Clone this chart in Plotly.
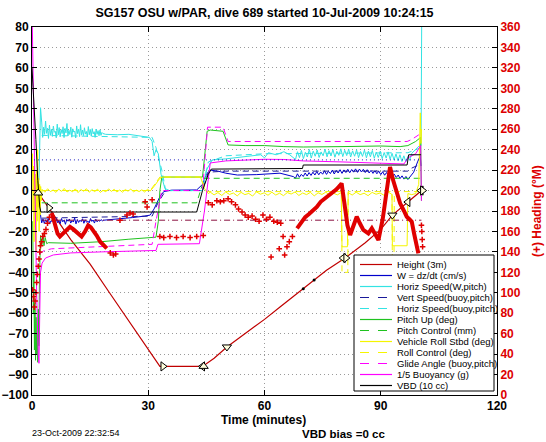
import numpy as np
import plotly.graph_objects as go

# ---------------- data ----------------
x_ticks = [0, 30, 60, 90, 120]
y_ticks = list(range(-100, 81, 10))
y2_ticks = list(range(0, 361, 20))

title_text = "SG157 OSU w/PAR, dive 689 started 10-Jul-2009 10:24:15"
legend_labels = ["Height (3m)", "W = dz/dt (cm/s)", "Horiz Speed(W,pitch)", "Vert Speed(buoy,pitch)",
                 "Horiz Speed(buoy,pitch)", "Pitch Up (deg)", "Pitch Control (mm)", "Vehicle Roll Stbd (deg)",
                 "Roll Control (deg)", "Glide Angle (buoy,pitch)", "1/5 Buoyancy (g)", "VBD (10 cc)"]

# Height (3m)
height_t = [0.0, 0.8, 1.6, 4.4, 6, 10, 15, 20, 25, 30, 33, 44, 47, 50.3, 55, 60, 64, 70, 73, 76, 80.8, 86, 90, 93, 97, 100.7]
height_v = [0.5, 0, -1.2, -8.5, -13, -24, -36, -50, -64, -78, -86, -86, -82, -76.5, -70, -63, -57, -48, -43.7, -39, -33, -25.5, -19, -12, -5.6, 0.3]
# event markers on the height trace
mark_t = [1.6, 4.4, 33.8, 44.0, 44.3, 50.3, 80.3, 81.0, 93.0, 97.0, 100.4, 100.8]
mark_v = [-1.2, -8.5, -86, -86, -86, -76.5, -33, -33, -12, -5.6, 0, 0]
mark_sym = ["triangle-up", "triangle-right", "triangle-right", "triangle-left", "triangle-up", "triangle-down",
            "triangle-left", "triangle-right", "triangle-down", "triangle-left", "triangle-left", "triangle-right"]
dot_t = [70.0, 72.8]
dot_v = [-48, -43.8]

# W = dz/dt
w_start_t = [1.5, 2.0, 2.3]
w_start_v = [-3, -10, -15]
w_dive_noise = [-15.8, -13.9, -16.1, -14.3, -15.5, -13.6, -16.4, -14.8, -15.1, -13.8, -16.0, -14.0, -15.7, -14.6,
                -16.2, -13.7, -15.3, -14.4, -16.5, -14.1, -15.0, -13.9, -15.9, -14.7, -15.4, -13.5, -16.3, -14.2,
                -15.6, -14.5, -15.2, -13.8, -16.0, -14.3, -15.5, -14.9, -15.8, -13.7, -15.1, -14.4, -15.9, -14.0,
                -15.3, -14.6, -15.0, -14.2, -14.8, -14.5]
w_mid_t = [20, 23, 26, 29, 30.5, 31.5, 33, 34, 36, 42.5, 44, 45, 46, 48, 50, 53, 58, 64, 66, 67.5]
w_mid_v = [-14.3, -13.8, -13.2, -12.5, -12, -9, -3, -0.5, 0.2, 0.3, 3, 8, 10, 9.5, 8.5, 7.6, 7.8, 8.5, 7.5, 6.8]
w_climb_noise = [6.0, 8.2, 6.5, 7.9, 6.9, 8.6, 7.1, 8.8, 7.4, 9.0, 7.6, 9.3, 7.7, 9.1, 8.0, 9.6, 7.9, 9.4, 8.3, 10.0,
                 8.1, 9.8, 8.6, 10.2, 8.4, 10.1, 8.8, 10.4, 8.7, 10.3, 9.0, 10.6, 8.9, 10.5, 9.1, 10.4, 8.8, 10.2,
                 8.6, 9.9, 8.4, 9.7, 8.2, 9.5, 7.8, 9.2, 7.5, 8.8, 7.2, 8.4, 6.8, 8.0, 6.4, 7.6, 5.9, 7.2, 5.6,
                 6.9, 5.4, 6.6]
w_end_t = [98.5, 99.5, 100.2, 100.4]
w_end_v = [9, 14, 17, 12]

# Horiz Speed (W, pitch)
hw_start_t = [1.8, 2.2]
hw_start_v = [5, 40.5]
hw_dive_noise = [33.5, 26.0, 31.0, 27.5, 34.0, 28.0, 30.5, 25.5, 32.0, 27.0, 30.0, 26.5, 31.5, 28.5, 29.0, 25.8,
                 32.5, 27.2, 30.8, 26.3, 29.8, 27.9, 31.2, 25.9, 30.4, 28.2, 32.8, 26.7, 29.5, 27.4, 31.0, 26.1,
                 30.2, 28.6, 29.1, 25.7, 31.6, 27.8, 30.0, 26.4, 32.2, 27.1, 29.6, 26.9, 30.7, 27.6, 28.9, 26.2,
                 31.3, 27.3, 29.9, 26.6, 30.3, 27.7, 28.8, 26.0, 30.1, 27.5, 29.3, 26.8, 29.7, 27.0, 28.4, 27.9]
hw_mid_t = [19, 22, 25, 28, 29.5, 30.3, 31, 31.5, 32, 32.6, 33.3, 34.3, 35.5, 44, 45, 46.5, 50, 55, 59, 60, 61, 63,
            65, 66.5, 67.5]
hw_mid_v = [27.5, 27.3, 27.5, 26.8, 26.2, 26, 24, 17, 20, 18, 8, 1, 0, 0, 10, 15, 15.5, 16.5, 17.5, 16, 18.5, 17.5,
            19, 17.5, 16]
hw_climb_noise = [15.2, 19.0, 16.1, 19.6, 15.6, 18.7, 16.4, 20.1, 15.9, 19.3, 16.8, 19.8, 16.2, 18.9, 17.0, 20.3,
                  16.5, 19.5, 16.9, 20.0, 16.3, 19.2, 17.2, 20.4, 16.6, 19.7, 17.1, 20.2, 16.4, 19.4, 16.8, 19.9,
                  16.1, 19.1, 16.7, 19.8, 16.0, 19.3, 16.5, 19.6, 15.8, 18.8, 16.2, 19.2, 15.6, 18.6, 15.9, 18.9,
                  15.3, 18.2, 15.0, 17.9, 14.6, 17.5, 14.2, 17.0, 14.0, 16.6, 14.8, 18.2]
hw_end_t = [99, 100, 100.4, 100.6]
hw_end_v = [20, 22, 22, 95]

# Vert Speed (buoy, pitch)
vs_t = [2.5, 31, 32.5, 34.5, 44, 45.5, 50, 97, 98, 100.4]
vs_v = [-13.5, -12.5, -6, 0, 0, 9, 9.5, 9.5, 11, 13]

# Horiz Speed (buoy, pitch)
hs_t = [2.5, 31, 32, 33.5, 34.5, 44, 45.5, 50, 60, 97, 100.4]
hs_v = [27, 26, 21, 10, 0, 0, 14, 17, 18, 18.5, 21]

# Pitch Up (deg)
pitch_early = [-15, -60, -40, -78, -55, -83, -62, -80, -70, -84, -58, -76, -45, -30, -22]
pitch_t = [2.5, 2.8, 3.1, 3.4, 3.8, 4.2, 10, 18, 25, 32, 32.6, 33.0, 33.5, 44, 45.2, 46, 49.3, 50.6, 55, 60, 65,
           70, 80, 90, 95, 97, 99, 100.3, 100.5]
pitch_v = [-27, -21, -27, -23, -26, -25.5, -25.8, -25, -23.8, -22.8, -15, 0, 6.6, 6.6, 29, 29.6, 29, 22.3, 22, 22,
           21.5, 21.3, 21.5, 21.8, 21.5, 22, 24, 26, -5]

# Pitch Control (mm)
pc_t = [2.5, 42.5, 43.5, 44.5, 100.4]
pc_v = [-6, -6, 0, 6, 6]

# Vehicle Roll Stbd (deg)
roll_early = [5, 18, -10, 12, -25, 15, -18, 8, -30, 10, -15, 20, -8, 6, -20, 3, -12, 2, -5, 0.5]
roll_dive_noise = [0.6, -0.8, 0.9, -0.5, 0.3, -0.9, 0.7, -0.4, 1.0, -0.7, 0.2, -0.6, 0.8, -1.0, 0.5, -0.3, 0.9,
                   -0.8, 0.4, -0.5, 0.7, -0.9, 0.1, -0.6, 0.8, -0.4, 0.6, -0.7, 0.3, -0.8, 0.5, -0.3, 0.7, -0.6,
                   0.2, -0.5, 0.4, -0.7, 0.6, -0.2]
roll_apo_t = [31.5, 33, 33.8, 43.5, 44.5, 45.5]
roll_apo_v = [2, 6, 6.6, 6.6, 1, -1.5]
roll_climb_noise1 = [-0.8, -2.1, -1.0, -2.4, -0.7, -1.9, -1.2, -2.6, -0.9, -2.0, -1.4, -2.7, -0.6, -1.8, -1.1,
                     -2.3, -0.8, -2.2, -1.3, -2.5, -1.0, -1.7, -0.7, -2.4, -1.2, -2.0, -0.9, -2.6, -1.1, -1.9,
                     -0.8, -2.3, -1.3, -2.1, -1.0]
roll_turn1_t = [80.0, 81.4]
roll_turn1_v = [-27.5, -27.5]
roll_climb_noise2 = [-1.0, -2.2, -0.8, -2.0, -1.3, -2.5, -0.9, -1.8, -1.2, -2.3, -0.7, -1.9]
roll_turn2_t = [93.0, 96.8]
roll_turn2_v = [-27, -27]
roll_end_t = [97.0, 98, 99, 99.8, 100.2, 100.4, 100.5]
roll_end_v = [-1.5, -2, -1.5, 3, 38, 23, 30]

# Roll Control (deg)
rc_t = [2.6, 30.5, 33, 43.5, 45, 79.9, 80.0, 81.5, 81.6, 92.9, 93.0, 93.4, 93.5, 100.4]
rc_v = [0, 0, 6.6, 6.6, -0.5, -0.5, -40, -40, -0.5, -0.5, -40, -40, -0.5, -0.5]

# Glide Angle (buoy, pitch)
ga_t = [2.0, 3, 5, 18, 31, 32, 33.5, 44, 45.3, 49.3, 50.6, 65, 96.8, 98, 99.5, 100.4]
ga_v = [-31, -29.5, -28.5, -27.5, -26.3, -15, 0, 0, 31, 31, 24, 24, 24, 25, 27, 28]

# 1/5 Buoyancy (g)
buoy_t = [0, 0.4, 0.8, 1.2, 1.6, 1.8, 2.0, 2.2, 2.6, 3.5, 5.5, 10, 18, 32, 32.5, 43.2, 44.5, 46, 50, 55, 60, 65,
          70, 80, 90, 96, 97, 99, 100.3, 100.5]
buoy_v = [90, 40, -10, -50, -80, -84.5, -60, -40, -35.5, -33, -31.5, -30.5, -30, -29.3, -26.3, -26, -10, 13.5,
          14.5, 15, 15.3, 15.2, 14.5, 14, 13.5, 13, 16, 18, 22, -5]

# VBD (10 cc)
vbd_t = [0, 0.5, 1.0, 1.5, 2.0, 2.3, 42.5, 44, 45.5, 46.3, 69.8, 70, 96.8, 97.2, 100.4]
vbd_v = [60, 45, 25, 5, -8, -10.5, -10.5, 0, 8, 10.5, 10.8, 12.5, 12.5, 17.5, 17.5]

# reference lines
wdes_t = [0.5, 100.5]
wdes_v = [15, 15]
hdg_des_t = [2.6, 100.5]
hdg_des_v = [171, 171]

# Heading (deg, right axis)
hdg_dense1_t = [5.1, 5.9, 6.6, 7.2, 8.0, 8.9, 9.8, 10.7, 11.7, 12.8, 13.7, 14.5, 15.2, 15.8, 16.7, 17.6, 18.5, 19.3]
hdg_dense1_v = [178, 166, 158, 155, 158, 162, 164.5, 162, 158, 155, 160, 166, 164, 161, 156, 150, 146, 143.5]
hdg_dense2_t = [68.4, 69.5, 70.5, 71.5, 72.5, 73.5, 74.5, 75.5, 76.5, 77.5, 78.5, 79.5, 79.9, 80.6, 81.4, 82.1,
                83.0, 83.8, 84.6, 85.5, 86.8, 87.7, 88.6, 89.4, 90.5, 91.5, 92.4, 93.2, 94.1, 95.0, 96.0, 96.7,
                97.4, 98.0, 98.6, 99.3, 99.7]
hdg_dense2_v = [163, 168, 174, 177, 180, 184, 189, 192, 195, 197, 201, 205, 207, 188, 166, 156.5, 165, 174.4, 168,
                161.4, 158, 163, 157, 151.6, 172, 200, 223, 210, 197, 187.5, 180, 174.4, 172, 169.5, 158, 145,
                138.6]
hdg_sparse_t = [0.2, 0.4, 0.6, 0.8, 1.0, 1.2, 1.4, 1.6, 1.8, 2.0, 2.2, 2.5, 2.8, 3.2, 3.6, 4.0, 4.5,
                20.2, 21.0, 21.6, 22.7, 24.5, 25.3, 26.1, 29.2, 29.7, 31.0, 33.0, 34.0, 35.6, 37.3, 39.0, 40.8,
                42.5, 44.2, 45.5, 46.5, 47.7, 48.6, 49.5, 50.6, 51.5, 52.5, 53.3, 54.2, 55.0, 55.8, 56.8, 57.7,
                58.6, 59.6, 60.5, 61.4, 62.4, 63.3, 64.2, 64.8, 65.2, 65.8, 66.4, 67.2, 61.7, 63.8,
                100.5, 100.6, 100.7, 100.8]
hdg_sparse_v = [103, 96, 86, 92, 100, 110, 118, 126, 133, 140, 146, 150, 155, 158, 162, 168, 174,
                139, 137, 138, 171, 176, 178, 177, 189, 184, 191, 155, 154, 155, 154, 155, 154,
                155, 156, 188, 186, 190, 189, 190, 192, 189, 186, 182, 179, 176, 174, 175, 172,
                170, 176, 172, 174, 170, 169, 168, 155, 137, 145, 150, 155, 135, 143,
                166, 160, 152, 145]

# ---------------- styles ----------------
C_BLUE = "#0000cc"
C_NAVY = "#1a1a9a"
C_CYAN = "#33e3e3"
C_GREEN = "#1fc21f"
C_YELLOW = "#f5f500"
C_MAG = "#ff00ff"
C_BLACK = "#000000"
DASH = "6px,4px"
FONT = "Liberation Sans, Arial, Helvetica, sans-serif"

fig = go.Figure()


def add_line(t, v, color, dash="solid", width=1.0, yaxis="y"):
    fig.add_trace(go.Scatter(x=t, y=v, mode="lines", yaxis=yaxis, showlegend=False, hoverinfo="skip",
                             line=dict(color=color, dash=dash, width=width)))


def seg(start, end, vals):
    return list(np.linspace(start, end, len(vals)))


# height
add_line(height_t, height_v, "#c00000", width=1.2)
# W
add_line(w_start_t + seg(2.5, 18.5, w_dive_noise) + w_mid_t + seg(68, 97.5, w_climb_noise) + w_end_t,
         w_start_v + w_dive_noise + w_mid_v + w_climb_noise + w_end_v, C_BLUE)
# horiz speed W
add_line(hw_start_t + seg(2.5, 18.3, hw_dive_noise) + hw_mid_t + seg(68, 98, hw_climb_noise) + hw_end_t,
         hw_start_v + hw_dive_noise + hw_mid_v + hw_climb_noise + hw_end_v, C_CYAN)
add_line(vs_t, vs_v, C_NAVY, dash=DASH)
add_line(hs_t, hs_v, C_CYAN, dash=DASH)
add_line(seg(0.2, 2.2, pitch_early) + pitch_t, pitch_early + pitch_v, C_GREEN)
add_line(pc_t, pc_v, C_GREEN, dash=DASH)
add_line(seg(0, 2.5, roll_early) + seg(2.6, 30.5, roll_dive_noise) + roll_apo_t + seg(46, 79.8, roll_climb_noise1)
         + roll_turn1_t + seg(81.6, 92.9, roll_climb_noise2) + roll_turn2_t + roll_end_t,
         roll_early + roll_dive_noise + roll_apo_v + roll_climb_noise1 + roll_turn1_v + roll_climb_noise2
         + roll_turn2_v + roll_end_v, C_YELLOW)
add_line(rc_t, rc_v, C_YELLOW, dash=DASH)
add_line(ga_t, ga_v, C_MAG, dash=DASH)
add_line(buoy_t, buoy_v, C_MAG)
add_line(vbd_t, vbd_v, C_BLACK)
add_line(wdes_t, wdes_v, "#2020c0", dash="1px,3px")

# event markers
fig.add_trace(go.Scatter(x=mark_t, y=mark_v, mode="markers", showlegend=False, hoverinfo="skip",
                         marker=dict(symbol=mark_sym, size=8, color="rgba(255,255,220,1)",
                                     line=dict(color="black", width=1))))
fig.add_trace(go.Scatter(x=dot_t, y=dot_v, mode="markers", showlegend=False, hoverinfo="skip",
                         marker=dict(symbol="circle", size=3, color="black")))

# heading on right axis
add_line(hdg_des_t, hdg_des_v, "#8a1040", dash="6px,3px,1px,3px", yaxis="y2")
add_line(hdg_dense1_t, hdg_dense1_v, "#e00000", width=4, yaxis="y2")
add_line(hdg_dense2_t, hdg_dense2_v, "#e00000", width=4, yaxis="y2")
fig.add_trace(go.Scatter(x=hdg_sparse_t, y=hdg_sparse_v, mode="markers", yaxis="y2", showlegend=False,
                         hoverinfo="skip",
                         marker=dict(symbol="cross-thin", size=4, line=dict(color="#e00000", width=1.5))))

# ---------------- custom legend ----------------
leg_colors = ["#c00000", C_BLUE, C_CYAN, C_NAVY, C_CYAN, C_GREEN, C_GREEN, C_YELLOW, C_YELLOW, C_MAG, C_MAG,
              C_BLACK]
leg_dash = ["solid", "solid", "solid", "dash", "dash", "solid", "dash", "solid", "dash", "dash", "solid", "solid"]

PX_L, PX_R, PX_T, PX_B = 32, 497, 27, 395
W_PX, H_PX = PX_R - PX_L, PX_B - PX_T


def px_x(x):
    return (x - PX_L) / W_PX


def px_y(y):
    return (PX_B - y) / H_PX


shapes = [dict(type="rect", xref="paper", yref="paper", x0=px_x(354), x1=px_x(494), y0=px_y(391), y1=px_y(255),
               fillcolor="white", line=dict(color="black", width=1), layer="above")]
annotations = []
for i, (lab, col, dsh) in enumerate(zip(legend_labels, leg_colors, leg_dash)):
    yc = 264.5 + 11.0 * i
    shapes.append(dict(type="line", xref="paper", yref="paper", x0=px_x(360), x1=px_x(392), y0=px_y(yc),
                       y1=px_y(yc), line=dict(color=col, width=1.2, dash=dsh), layer="above"))
    annotations.append(dict(text=lab, xref="paper", yref="paper", x=px_x(395), y=px_y(yc), xanchor="left",
                            yanchor="middle", showarrow=False, font=dict(family=FONT, size=9.5, color="black")))

annotations.append(dict(text="Time (minutes)", xref="paper", yref="paper", x=px_x(263), y=px_y(420),
                        xanchor="center", yanchor="middle", showarrow=False,
                        font=dict(family=FONT, size=12, color="black", weight="bold")))
annotations.append(dict(text="(+) Heading (°M)", xref="paper", yref="paper", x=px_x(537), y=px_y(211),
                        xanchor="center", yanchor="middle", showarrow=False, textangle=-90,
                        font=dict(family=FONT, size=12, color="#dd0000", weight="bold")))
annotations.append(dict(text="23-Oct-2009 22:32:54", xref="paper", yref="paper", x=px_x(30), y=px_y(433),
                        xanchor="left", yanchor="middle", showarrow=False,
                        font=dict(family=FONT, size=9, color="black")))
annotations.append(dict(text="VBD bias =0 cc", xref="paper", yref="paper", x=px_x(300), y=px_y(434),
                        xanchor="left", yanchor="middle", showarrow=False,
                        font=dict(family=FONT, size=11.5, color="black", weight="bold")))

grid = dict(showgrid=True, gridcolor="#9a9a9a", griddash="1px,3px", gridwidth=1)

fig.update_layout(
    width=546, height=442,
    margin=dict(l=PX_L, r=546 - PX_R, t=PX_T, b=442 - PX_B, autoexpand=False),
    paper_bgcolor="white", plot_bgcolor="white",
    showlegend=False,
    title=dict(text=title_text, x=px_x(264.5), xref="paper", xanchor="center", y=1 - 13 / 442,
               yref="container", yanchor="middle", automargin=False,
               font=dict(family=FONT, size=12.5, color="black", weight="bold")),
    xaxis=dict(range=[0, 120], tickvals=x_ticks, ticks="inside", ticklen=5, tickcolor="black",
               showline=True, linecolor="black", linewidth=1, mirror="ticks", zeroline=False, automargin=False,
               tickfont=dict(family=FONT, size=12, color="black", weight="bold"), **grid),
    yaxis=dict(range=[-100, 80], tickvals=y_ticks, ticks="inside", ticklen=5, tickcolor="black",
               showline=True, linecolor="black", linewidth=1, mirror="ticks", zeroline=False, automargin=False,
               tickfont=dict(family=FONT, size=12, color="black", weight="bold"), **grid),
    yaxis2=dict(range=[0, 360], tickvals=y2_ticks, overlaying="y", side="right", ticks="inside", ticklen=5,
                tickcolor="black", showline=True, linecolor="black", linewidth=1, showgrid=False,
                zeroline=False, automargin=False,
                tickfont=dict(family=FONT, size=12, color="#dd0000", weight="bold")),
    shapes=shapes,
    annotations=annotations,
)

fig.write_html("out.html", config={"displayModeBar": False, "staticPlot": True},
               post_script="document.body.style.margin='0';document.body.style.overflow='hidden';")
